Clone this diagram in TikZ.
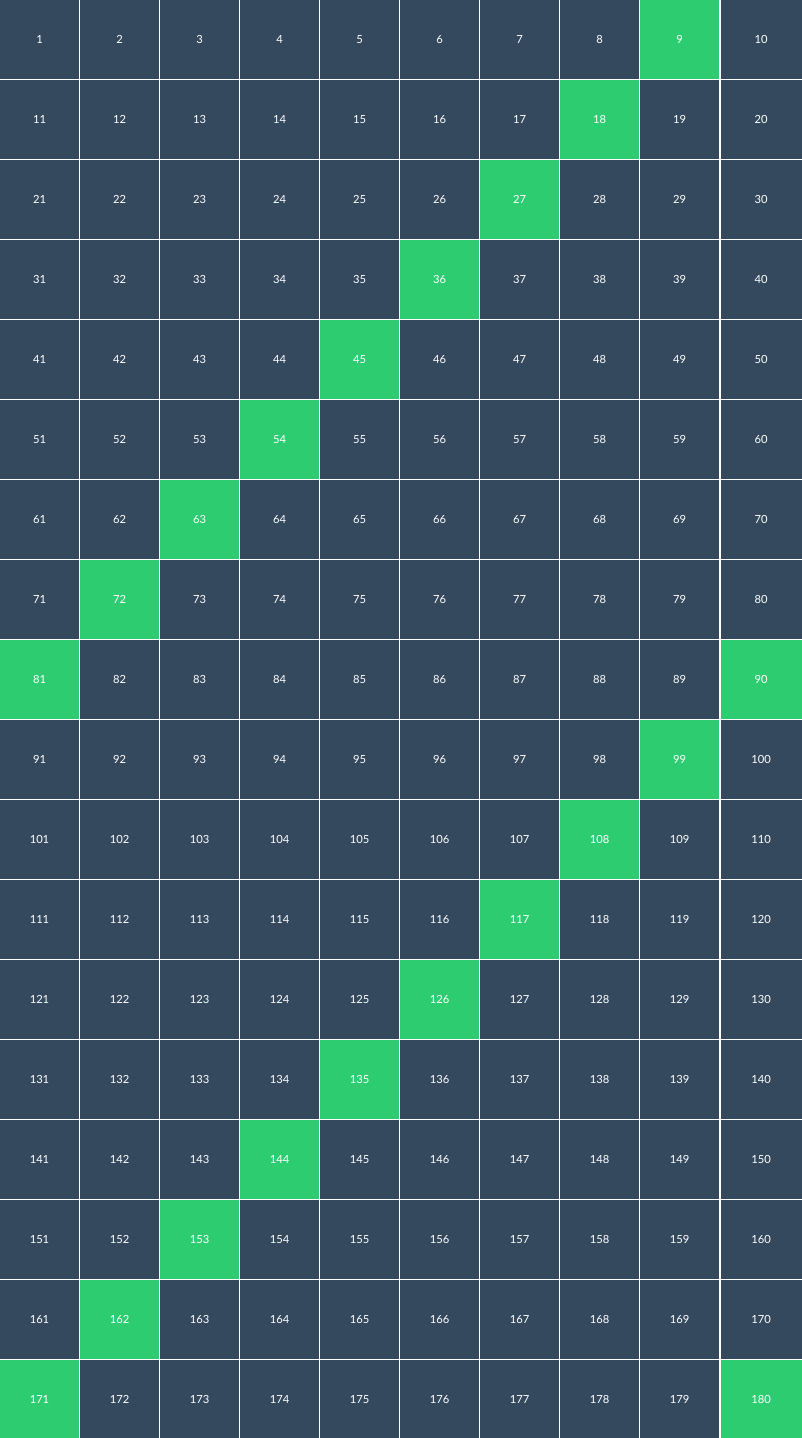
\documentclass[tikz,border=0pt]{standalone}
\usepackage{fontspec}
\setmainfont{Lato}

\definecolor{slate}{HTML}{34495E}
\definecolor{mint}{HTML}{2ECC71}

\tikzset{
  cell/.style={draw=white, line width=0.75pt, fill=slate, text=white,
    minimum size=60pt, inner sep=0pt, font=\fontsize{8.4}{10}\selectfont},
  hit/.style={cell, fill=mint},
  edgecol/.style={minimum width=61.5pt, xshift=1.125pt}
}

\begin{document}
\begin{tikzpicture}[x=0.75pt, y=-0.75pt]
	\useasboundingbox (0,0) rectangle (801,1438);
	\fill[slate] (0,0) rectangle (801,1438);

	% cells, multiples of nine in green
	\foreach \r in {0,...,17} {
		\foreach \c in {0,...,9} {
			\pgfmathtruncatemacro{\n}{10*\r+\c+1}
			\pgfmathtruncatemacro{\m}{mod(\n,9)}
			\ifnum\c=9 \def\side{edgecol}\else \def\side{}\fi
			\ifnum\m=0
				\node[hit, \side] (c\n) at (80*\c+39.5, 80*\r+39.5) {\n};
			\else
				\node[cell, \side] (c\n) at (80*\c+39.5, 80*\r+39.5) {\n};
			\fi
		}
	}
\end{tikzpicture}
\end{document}
